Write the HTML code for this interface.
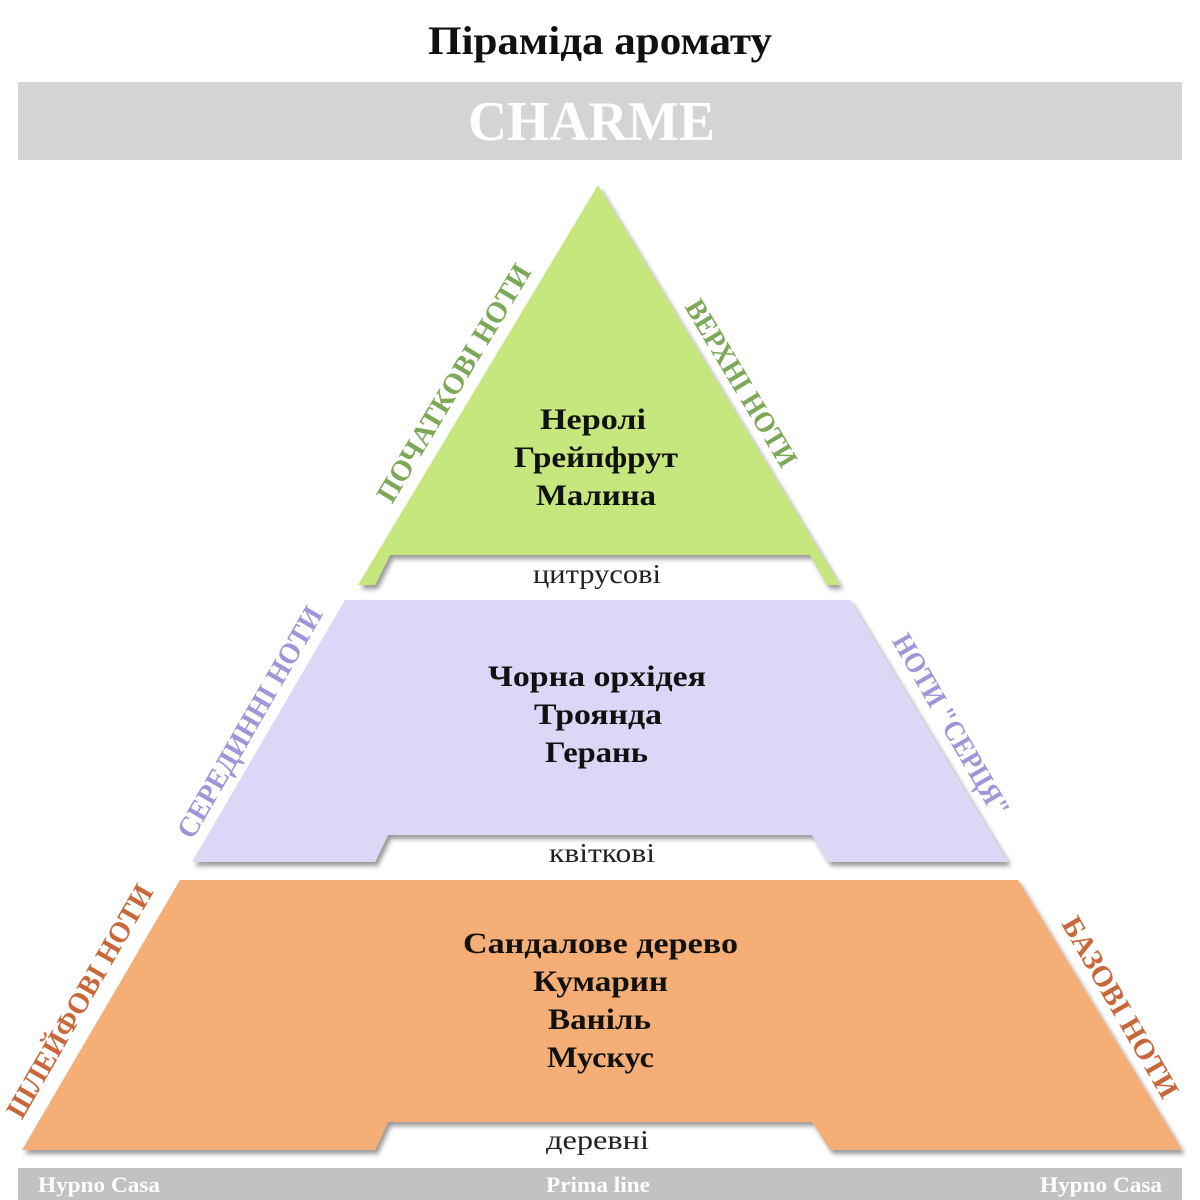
<!DOCTYPE html>
<html><head><meta charset="utf-8"><style>
html,body{margin:0;padding:0;background:#fff;}
svg{display:block;}
text{font-family:"Liberation Serif","DejaVu Serif",serif;}
</style></head><body>
<svg width="1200" height="1200" viewBox="0 0 1200 1200" xmlns="http://www.w3.org/2000/svg">
<defs>
<filter id="sh" x="-10%" y="-10%" width="120%" height="130%">
<feDropShadow dx="3" dy="4" stdDeviation="2.5" flood-color="#000" flood-opacity="0.4"/>
</filter>
</defs>
<text x="428" y="54" textLength="344" lengthAdjust="spacingAndGlyphs" font-size="40" font-weight="bold" fill="#111">Піраміда аромату</text>
<rect x="18" y="82" width="1164" height="78" fill="#d4d4d4"/>
<text x="468" y="140" textLength="247" lengthAdjust="spacingAndGlyphs" font-size="56" font-weight="bold" fill="#fff">CHARME</text>

<path d="M598,185 L840,585 L827,585 L810,555 L390,555 L375,585 L358,585 Z" fill="#c6e77e" filter="url(#sh)"/>
<path d="M345,600 L850,600 L1008,862 L828,862 L812,835 L388,835 L375,862 L192,862 Z" fill="#ded6f7" filter="url(#sh)"/>
<path d="M180,880 L1018,880 L1182,1150 L830,1150 L812,1122 L388,1122 L375,1150 L22,1150 Z" fill="#f5ae74" filter="url(#sh)"/>

<g font-weight="bold" font-size="30" fill="#111" lengthAdjust="spacingAndGlyphs">
<text x="540" y="429" textLength="106" lengthAdjust="spacingAndGlyphs">Нерол<tspan>і</tspan></text>
<text x="514" y="467" textLength="164" lengthAdjust="spacingAndGlyphs">Грейпфрут</text>
<text x="536" y="505" textLength="120" lengthAdjust="spacingAndGlyphs">Малина</text>
<text x="488" y="686" textLength="218" lengthAdjust="spacingAndGlyphs">Чорна орхідея</text>
<text x="534" y="724" textLength="128" lengthAdjust="spacingAndGlyphs">Троянда</text>
<text x="545" y="762" textLength="103" lengthAdjust="spacingAndGlyphs">Герань</text>
<text x="463" y="953" textLength="275" lengthAdjust="spacingAndGlyphs">Сандалове дерево</text>
<text x="533" y="991" textLength="135" lengthAdjust="spacingAndGlyphs">Кумарин</text>
<text x="548" y="1029" textLength="103" lengthAdjust="spacingAndGlyphs">Ваніль</text>
<text x="547" y="1067" textLength="107" lengthAdjust="spacingAndGlyphs">Мускус</text>
</g>
<g font-size="27" fill="#222">
<text x="533" y="583" textLength="128" lengthAdjust="spacingAndGlyphs">цитрусові</text>
<text x="549" y="862" textLength="106" lengthAdjust="spacingAndGlyphs">квіткові</text>
<text x="546" y="1149" textLength="103" lengthAdjust="spacingAndGlyphs">деревні</text>
</g>

<g font-size="29" text-anchor="middle" font-weight="bold">
<text transform="translate(462,388) rotate(-59)" fill="#7da858" textLength="272" lengthAdjust="spacingAndGlyphs">ПОЧАТКОВІ НОТИ</text>
<text transform="translate(733,388) rotate(59)" fill="#7da858" textLength="190" lengthAdjust="spacingAndGlyphs">ВЕРХНІ НОТИ</text>
<text transform="translate(258,727) rotate(-60)" fill="#a294d8" textLength="262" lengthAdjust="spacingAndGlyphs">СЕРЕДИННІ НОТИ</text>
<text transform="translate(943,730) rotate(60)" fill="#a294d8" textLength="206" lengthAdjust="spacingAndGlyphs">НОТИ "СЕРЦЯ"</text>
<text transform="translate(88,1006) rotate(-60)" fill="#c8683a" textLength="264" lengthAdjust="spacingAndGlyphs">ШЛЕЙФОВІ НОТИ</text>
<text transform="translate(1112,1012) rotate(60)" fill="#c8683a" textLength="204" lengthAdjust="spacingAndGlyphs">БАЗОВІ НОТИ</text>
</g>

<rect x="18" y="1168" width="1164" height="32" fill="#c2c2c2"/>
<g font-size="22" font-weight="bold" fill="#fff">
<text x="38" y="1192" textLength="122" lengthAdjust="spacingAndGlyphs">Hypno Casa</text>
<text x="546" y="1192" textLength="104" lengthAdjust="spacingAndGlyphs">Prima line</text>
<text x="1040" y="1192" textLength="122" lengthAdjust="spacingAndGlyphs">Hypno Casa</text>
</g>
</svg>
</body></html>
